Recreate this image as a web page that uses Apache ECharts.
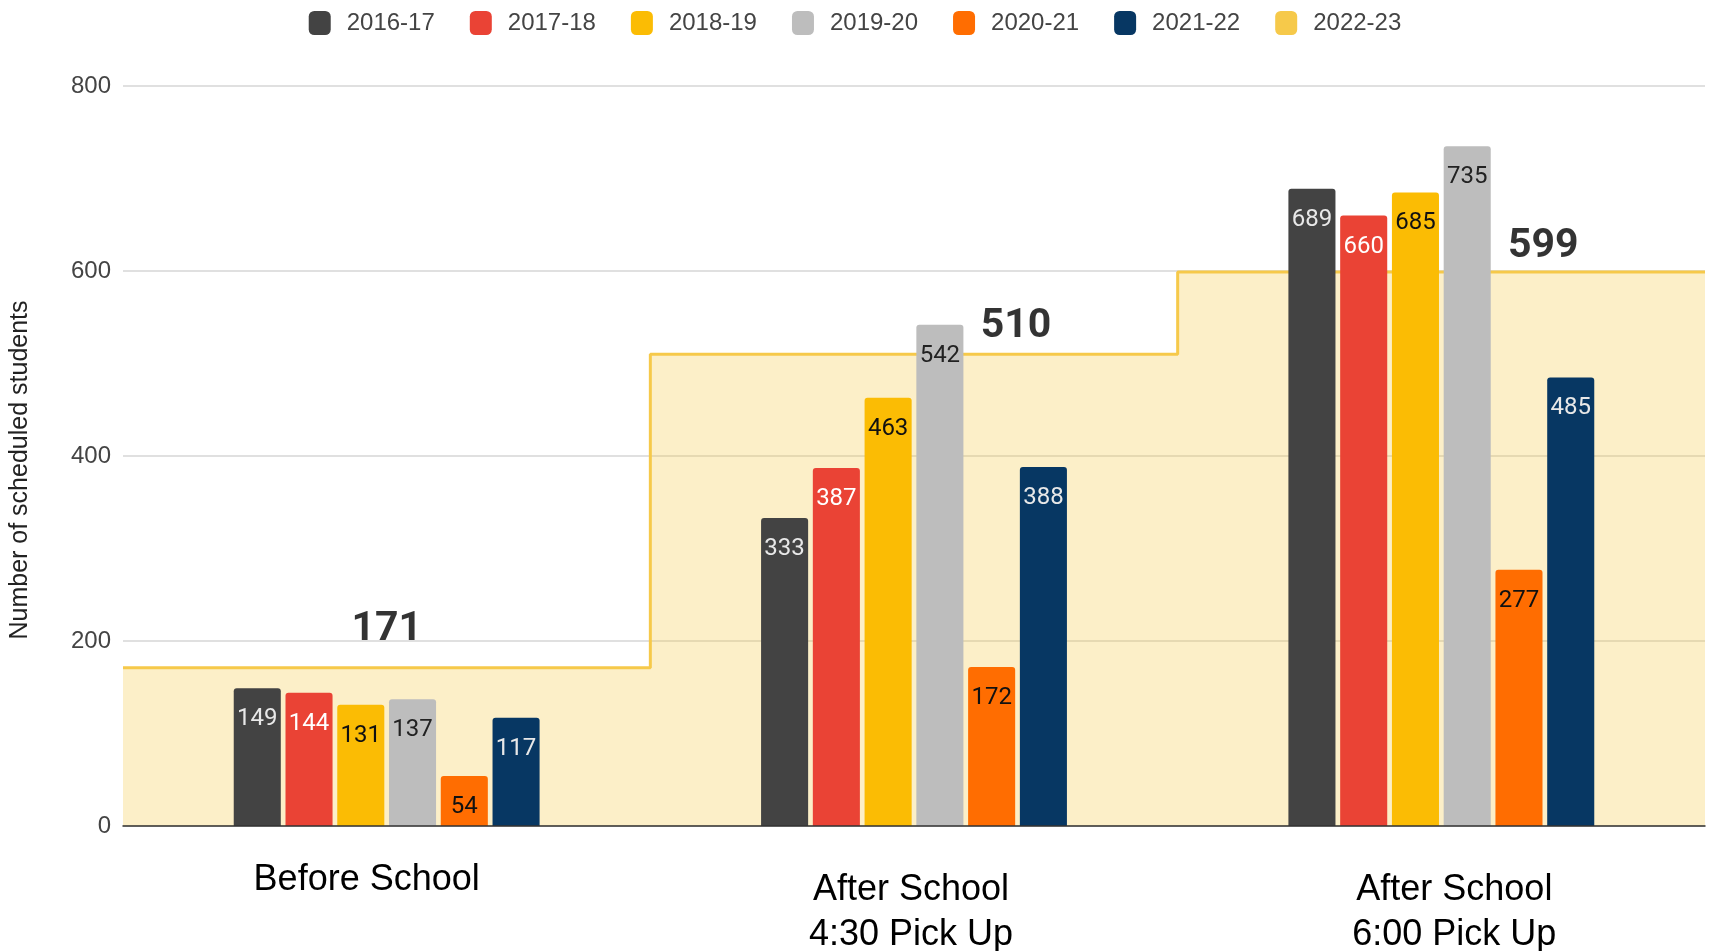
<!DOCTYPE html>
<html>
<head>
<meta charset="utf-8">
<script src="https://cdn.jsdelivr.net/npm/echarts@6/dist/echarts.min.js"></script>
<style>
html,body{margin:0;padding:0;background:#fff;}
#chart{width:1710px;height:951px;}
</style>
</head>
<body>
<div id="chart"></div>
<script>
const categories = ['Before School', 'After School\n4:30 Pick Up', 'After School\n6:00 Pick Up'];
const seriesNames = ['2016-17', '2017-18', '2018-19', '2019-20', '2020-21', '2021-22'];
const s2016 = [149, 333, 689];
const s2017 = [144, 387, 660];
const s2018 = [131, 463, 685];
const s2019 = [137, 542, 735];
const s2020 = [54, 172, 277];
const s2021 = [117, 388, 485];
const target2022Name = '2022-23';
const target2022 = [171, 510, 599];
const yTicks = [0, 200, 400, 600, 800];

const barValues = [s2016, s2017, s2018, s2019, s2020, s2021];
const barColors = ['#434343', '#ea4335', '#fbbc04', '#bdbdbd', '#ff6d01', '#073763'];
const labelColors = ['#e8e8e8', '#ffffff', '#111111', '#222222', '#111111', '#e8e8e8'];
const lineColor = '#f6c94a';

const barSeries = seriesNames.map((name, i) => ({
  name: name,
  type: 'bar',
  xAxisIndex: 0,
  data: barValues[i],
  barGap: '10%',
  barCategoryGap: '42%',
  itemStyle: { color: barColors[i], borderRadius: [3, 3, 0, 0] },
  label: {
    show: true,
    position: 'insideTop',
    distance: 19,
    color: labelColors[i],
    fontFamily: 'Roboto',
    fontSize: 24
  },
  z: 3
}));

// step line spanning the full category width
const stepData = target2022.map((v, i) => [i, v]);
stepData.push([target2022.length, target2022[target2022.length - 1]]);

const stepSeries = {
  name: target2022Name,
  type: 'line',
  xAxisIndex: 1,
  step: 'end',
  data: stepData,
  symbol: 'none',
  lineStyle: { color: lineColor, width: 3 },
  itemStyle: { color: lineColor },
  areaStyle: { color: lineColor, opacity: 0.3 },
  z: 2
};

const labelOffsets = [[0, 0], [102, 0], [102, 0]];
const labelDistances = [18, 7, 5];
const stepLabelSeries = {
  name: 'labels',
  type: 'scatter',
  xAxisIndex: 0,
  symbolSize: 0,
  silent: true,
  data: target2022.map((v, i) => ({
    value: v,
    label: { offset: labelOffsets[i], distance: labelDistances[i] }
  })),
  label: {
    show: true,
    position: 'top',
    color: '#000',
    fontFamily: 'Roboto',
    fontWeight: 'bold',
    fontSize: 41
  },
  z: 4
};

const catPadding = [[0, 40, 0, 0], [0, 6, 0, 0], [0, 0, 0, 26]];
const catLineHeights = [24, 45, 45];

const chart = echarts.init(document.getElementById('chart'));
chart.setOption({
  animation: false,
  backgroundColor: '#fff',
  legend: {
    data: seriesNames.concat([target2022Name]),
    top: 6,
    left: 'center',
    icon: 'roundRect',
    itemWidth: 22,
    itemHeight: 24,
    itemGap: 35,
    textStyle: { color: '#444', fontFamily: 'Liberation Sans', fontSize: 24, padding: [0, 0, 0, 11] }
  },
  grid: { left: 123, right: 5, top: 86, bottom: 125, containLabel: false, outerBoundsMode: 'none' },
  xAxis: [
    {
      type: 'category',
      data: categories.map((c, i) => ({
        value: c,
        textStyle: { lineHeight: catLineHeights[i], padding: catPadding[i] }
      })),
      axisTick: { show: false },
      axisLine: { lineStyle: { color: '#333', width: 1.5 } },
      axisLabel: {
        color: '#000',
        fontFamily: 'Liberation Sans',
        fontSize: 36,
        lineHeight: 45,
        margin: 42
      },
      z: 5
    },
    {
      type: 'value',
      min: 0,
      max: categories.length,
      show: false
    }
  ],
  yAxis: {
    type: 'value',
    min: yTicks[0],
    max: yTicks[yTicks.length - 1],
    interval: 200,
    name: 'Number of scheduled students',
    nameLocation: 'middle',
    nameGap: 90,
    nameTextStyle: { color: '#222', fontFamily: 'Liberation Sans', fontSize: 25, padding: [0, 28, 0, 0] },
    axisLine: { show: false },
    axisTick: { show: false },
    axisLabel: { color: '#444', fontFamily: 'Liberation Sans', fontSize: 24, margin: 12 },
    splitLine: { lineStyle: { color: '#d6d6d6', width: 1.5 } }
  },
  series: barSeries.concat([stepSeries, stepLabelSeries])
});
</script>
</body>
</html>
